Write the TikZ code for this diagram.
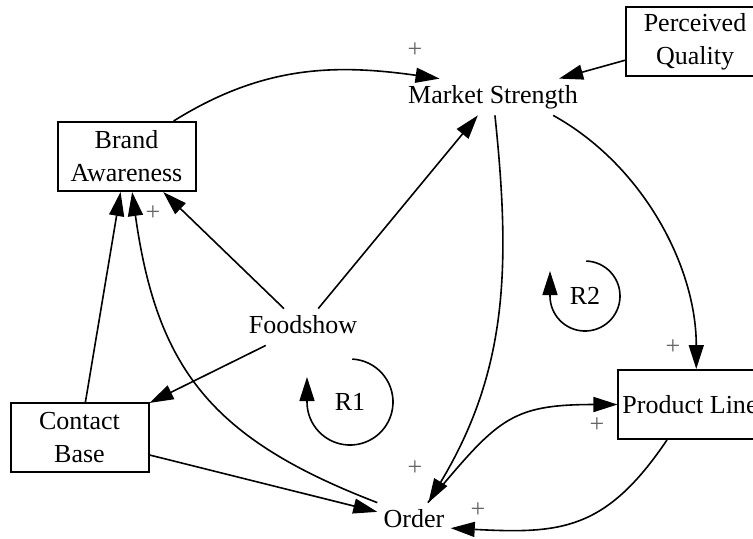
\documentclass[tikz,border=0pt]{standalone}
\usepackage{fontspec}
\setmainfont{Liberation Serif}
\usetikzlibrary{arrows.meta}
\tikzset{
  boxvar/.style={draw, line width=1pt, fill=white, align=center, inner sep=2pt,
                 minimum width=69pt, minimum height=34.5pt, font=\fontsize{13}{16.5}\selectfont},
  auxvar/.style={inner sep=3pt, text height=9pt, text depth=3pt, font=\fontsize{13}{16}\selectfont},
  link/.style={-{Triangle[length=12pt,width=7.5pt]}, line width=0.8pt},
  polsign/.style={text=black!60, inner sep=0pt, font=\fontsize{13}{16}\selectfont},
  rtxt/.style={inner sep=0pt, font=\fontsize{13}{16}\selectfont},
  rarc/.style={-{Triangle[length=12pt,width=7.5pt]}, line width=0.8pt},
}

\begin{document}
\begin{tikzpicture}[x=0.5pt,y=0.5pt]
\useasboundingbox (0,0) rectangle (753,-538);
% variables
\node[boxvar] (pq) at (695,-41.5) {Perceived\\Quality};
\node[auxvar] (ms) at (493,-97) {Market Strength};
\node[boxvar] (ba) at (126.5,-156.5) {Brand\\Awareness};
\node[auxvar] (fs) at (303,-327) {Foodshow};
\node[boxvar] (cb) at (79.5,-437.5) {Contact\\Base};
\node[boxvar] (pl) at (690,-404.5) {Product Line};
\node[auxvar] (ord) at (414,-521) {Order};
% straight links
\draw[link] (pq.195) -- (ms);
\draw[link] (fs) -- (ms);
\draw[link] (fs) -- (ba);
\draw[link] (fs) -- (cb);
\draw[link] (cb) -- (ba);
\draw[link] (cb) -- (ord);
% curved links
\draw[link] (ba.37) to[out=32,in=172] (ms.161);
\draw[link] (ms.-84) to[out=-84,in=59] (ord.52);
\draw[link] (ms.-17) to[out=-29,in=90,looseness=0.9] (pl.80);
\draw[link] (ord.53) to[out=50,in=180,looseness=1.3] (pl.west);
\draw[link] (pl.237) to[out=236,in=-3,looseness=1.2] (ord.-11);
\draw[link] (ord.north west) to[out=159,in=-82,looseness=1.15] (ba.-81);
% polarities
\node[polsign] (s1) at (415,-50) {+};
\node[polsign] (s2) at (153,-213) {+};
\node[polsign] (s3) at (673,-347) {+};
\node[polsign] (s4) at (597,-425) {+};
\node[polsign] (s5) at (415,-468) {+};
\node[polsign] (s6) at (478,-510) {+};
% loop markers
\node[rtxt] (r1) at (350,-402) {R1};
\draw[rarc] ([shift={(87:43)}]r1.center) arc[start angle=87,end angle=-180,radius=43] -- ++(0,25);
\node[rtxt] (r2) at (585,-296) {R2};
\draw[rarc] ([shift={(88:35)}]r2.center) arc[start angle=88,end angle=-180,radius=35] -- ++(0,25);
\end{tikzpicture}
\end{document}
